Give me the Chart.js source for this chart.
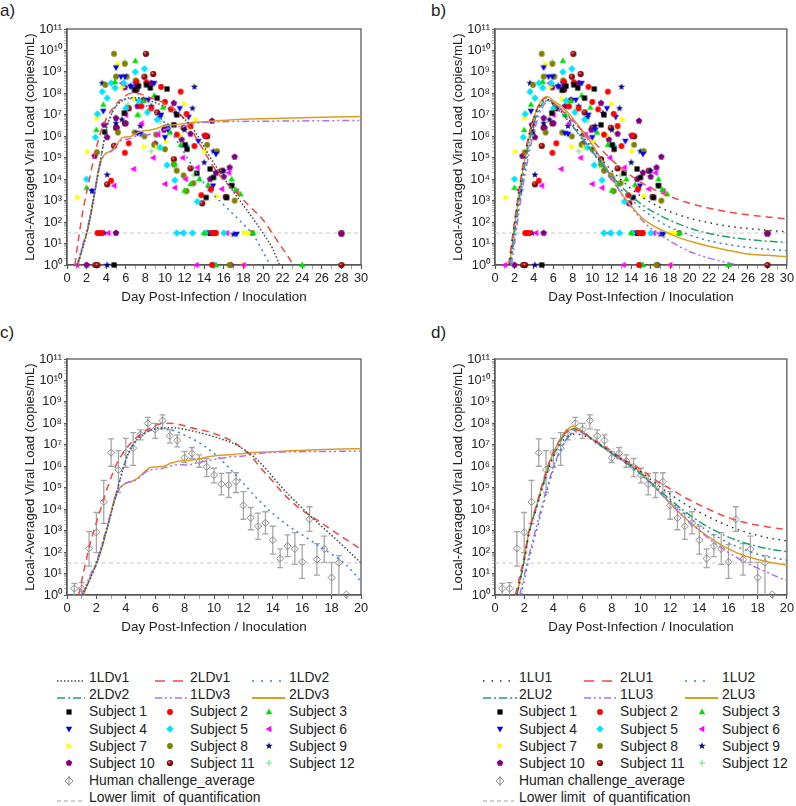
<!DOCTYPE html>
<html><head><meta charset="utf-8">
<script src="https://cdn.jsdelivr.net/npm/chart.js@4.4.0/dist/chart.umd.min.js"></script>
<style>
body{margin:0;width:796px;height:806px;position:relative;overflow:hidden;background:#fff;font-family:'Liberation Sans',Arial,sans-serif;color:#222}
canvas.pc{position:absolute}
.plab{position:absolute;font-size:17px;line-height:20px}
.lg{position:absolute;font-size:13.9px;line-height:16px;white-space:pre}
.ls{position:absolute}
</style></head><body>
<div class="plab" style="left:0;top:1px">a)</div>
<div class="plab" style="left:431px;top:1px">b)</div>
<div class="plab" style="left:0;top:323px">c)</div>
<div class="plab" style="left:431px;top:323px">d)</div>
<canvas class="pc" id="ca" width="396" height="310" style="left:0;top:0"></canvas>
<canvas class="pc" id="cb" width="368" height="310" style="left:428px;top:0"></canvas>
<canvas class="pc" id="cc" width="396" height="310" style="left:0;top:330px"></canvas>
<canvas class="pc" id="cd" width="368" height="310" style="left:428px;top:330px"></canvas>
<div id="legend"></div>
<script>
// ---------- axis ticks ----------
const xTicksLong = [0,2,4,6,8,10,12,14,16,18,20,22,24,26,28,30];
const xTicksShort = [0,2,4,6,8,10,12,14,16,18,20];
const yTickValues = [1,1e1,1e2,1e3,1e4,1e5,1e6,1e7,1e8,1e9,1e10,1e11];
const yTickLabels = ['10⁰','10¹','10²','10³','10⁴','10⁵','10⁶','10⁷','10⁸','10⁹','10¹⁰','10¹¹'];
const LLOQ = 31;

// ---------- subjects (day, copies/mL) ----------
const subj1 = [[3.84,1.6e6],[4.8,1],[5.84,1.2e7],[6.9,1.4e8],[7.3,2.2e8],[8.1,2.5e8],[8.5,1.8e8],[9.2,6e7],[10.2,1.6e8],[10.9,3.4e6],[11.2,1e7],[12.05,4e5],[12.25,2.5e5],[13.25,1.9e4],[14.2,1.4e3],[14.6,3e4],[14.95,1.2e4],[16.3,1.4e3],[16.8,5e3]];
const subj2 = [[3.1,31],[3.3,31],[3.55,31],[4.5,8.5e3],[5.9,1.7e5],[6.3,4.7e5],[7.1,3.5e8],[7.6,2.5e7],[8.1,3.3e8],[8.6,2e7],[9.6,2e8],[10.0,4e7],[10.6,1.8e7],[11.2,1.2e6],[11.6,1.2e8],[12.2,1.1e7],[12.6,3e6],[13.0,3.5e5],[13.7,1.8e3],[14.1,1.1e6],[14.7,3.5e3],[14.8,1],[14.9,31],[15.2,31]];
const subj3 = [[2.0,4e3],[3.0,2e6],[3.7,3e7],[4.9,3.5e8],[6.97,3.3e9],[7.2,1e7],[7.8,4.5e7],[8.9,8e7],[9.8,2.2e7],[10.5,1.5e6],[11.0,5e4],[11.6,4e5],[12.0,3e3],[12.6,6e3],[13.5,1e4],[14.0,31],[14.4,5.5e3],[15.2,1],[16.8,1e4],[17.2,3.3e3],[17.7,2e3],[19.0,31],[24.0,1]];
const subj4 = [[2.6,2.8e3],[3.7,1.5e7],[5.0,1.6e9],[5.5,6e8],[5.9,6e8],[6.5,2e8],[7.0,2.8e8],[7.2,1.4e6],[7.5,1.3e6],[8.3,5e7],[8.9,3e8],[9.6,1e7],[10.0,9e5],[10.3,2e6],[11.5,2e7],[12.4,8e6],[13.4,6e5],[14.0,1e6],[14.9,5e3],[15.2,1.5e5],[16.8,5e3],[17.3,28]];
const subj5 = [[2.0,1e4],[2.9,9e5],[3.1,1.1e7],[3.6,1.2e8],[4.1,6e7],[4.5,3e8],[4.9,1.8e8],[5.8,3e8],[6.0,2e7],[6.97,1e9],[7.3,4.5e7],[7.9,1.4e9],[8.2,1.3e7],[9.2,6e6],[9.5,3e5],[10.2,4.5e4],[11.0,9e3],[11.2,31],[11.9,31],[12.2,3.5e5],[12.8,31],[13.3,9e2],[14.1,31],[15.0,1],[16.0,31]];
const subj6 = [[1.0,1],[4.2,31],[4.8,5e3],[5.6,3e8],[6.0,1e7],[6.8,3e4],[7.6,4e6],[8.8,1e5],[9.3,1.2e6],[10.0,6e3],[11.0,4e3],[11.8,1e5],[11.75,31],[12.1,1e4],[13.2,1],[13.3,3.5e4],[14.6,3e3],[15.8,3.5e3],[16.3,31],[16.5,2e4],[17.3,2.8e3],[18.0,1]];
const subj7 = [[1.1,1.4e3],[2.1,1.9e5],[3.06,7e6],[5.2,2.3e9],[5.7,2e8],[6.9,5.5e7],[7.9,3.3e5],[8.3,1.5e7],[9.2,3e5],[10.1,6e5],[11.5,1.1e6],[12.0,3.3e7],[12.6,2.5e6],[13.1,6e6],[14.1,2e5],[15.3,1.6e3],[17.5,2.4e3],[18.1,31],[18.5,31],[18.0,1]];
const subj8 = [[3.06,1.8e5],[3.9,2.5e8],[4.8,7e9],[5.0,6e8],[5.2,1.5e6],[5.9,2.4e9],[6.1,6e8],[6.9,1.5e6],[7.0,4e8],[7.9,1e6],[8.9,4e5],[9.1,1.2e6],[10.0,2.5e5],[10.9,5e4],[11.2,2.5e4],[11.9,1.5e4],[12.2,2.8e3],[12.9,6.5e3],[14.3,4e5],[15.3,2e5],[16.6,1],[17.1,1e3],[18.9,31]];
const subj9 = [[2.55,2.8e3],[3.6,3e8],[3.8,31],[4.1,1.6e4],[4.1,1],[5.0,4e6],[5.6,6e6],[6.5,2.3e8],[7.5,3e6],[8.6,2.5e7],[9.5,8e6],[10.3,3e6],[11.1,1.2e7],[12.0,2e6],[12.8,2e7],[13.0,2e8],[14.0,6e4],[14.3,31],[14.95,2e5],[16.0,2.5e4],[17.0,27]];
const subj10 = [[2.0,1],[2.82,1.2e5],[3.8,3.4e6],[4.1,9e5],[5.0,7e6],[5.0,31],[5.1,2.5e6],[5.9,1.9e8],[6.0,4e6],[7.0,1.8e8],[7.2,2.5e7],[7.8,5e7],[8.6,3e8],[9.0,4.5e5],[9.9,2e6],[10.9,3.5e7],[11.7,7e5],[12.6,1.3e6],[14.8,5.2e6],[14.6,1e4],[15.2,2e4],[16.0,1.3e4],[16.6,3.5e4],[16.7,1],[17.1,1.1e5],[28.0,28]];
const subj11 = [[2.9,1],[3.1,1],[4.1,5.8e3],[4.8,3.6e5],[5.0,2.5e6],[5.9,4e6],[6.3,2e7],[7.1,1.5e8],[7.9,6e8],[8.05,7e9],[8.8,8e8],[9.2,1.3e7],[10.0,2.5e6],[10.9,8.5e4],[11.9,2.5e6],[12.6,3.2e4],[13.8,7.5e2],[14.3,1e6],[14.6,31],[15.1,31],[15.8,2.5e4],[16.2,1.5e3],[28.0,1],[28.0,31]];
const subj12 = [[4.9,3e8],[5.9,3e9],[6.2,3e7],[7.4,1e7],[8.6,2e5],[9.5,5e6],[11.0,3.5e4],[12.1,2.5e3],[12.9,1.5e4]];
const subjectNames = ['Subject 1','Subject 2','Subject 3','Subject 4','Subject 5','Subject 6','Subject 7','Subject 8','Subject 9','Subject 10','Subject 11','Subject 12'];

// ---------- human challenge average ----------
const hcDays = [0.5,1,1.5,2,2.5,3,3.5,4,4.5,5,5.5,6,6.5,7,7.5,8,8.5,9,9.5,10,10.5,11,11.5,12,12.5,13,13.5,14,14.5,15,15.5,16,16.5,17,17.5,18,18.5,19];
const hcMean = [2,2,150,830,2.2e4,4.3e6,6.8e5,4.3e6,7e6,3e7,1e8,5.2e7,1.35e8,2.6e7,1.6e7,2.5e6,4e6,1.8e6,9.5e5,3.9e5,1.5e5,1.35e5,1.9e5,1.5e4,3.9e3,1.6e3,2.3e3,360,50,190,140,35,3.4e3,45,140,6.5,32,1.05];
const hcHigh = [3.5,3.8,900,7e3,2.2e5,1.9e7,5.4e6,2e7,3.7e7,5e7,1.9e8,1e8,2.5e8,5e7,2.9e7,4.8e6,7.5e6,3.4e6,2.3e6,8.1e5,4.7e5,5e5,5e5,6.6e4,1.2e4,6.6e3,7.6e3,1.6e3,140,640,800,225,1.3e4,250,560,33,68,null];
const hcLow = [0.5,0.5,22,95,2.2e3,1e6,6e4,9e5,1.1e6,1.7e7,4.9e7,2e7,5.5e7,1.2e7,8e6,1.5e6,2.3e6,9e5,3.3e5,1.7e5,4.6e4,3.5e4,6e4,3.4e3,1.1e3,390,700,80,19,61,27,6,930,8.5,33,0.3,0.3,null];

// ---------- model curves [day, log10(copies/mL)] ----------
// panels a) and c)
const aGray = [[1.05,0],[1.5,0.65],[2,1.45],[2.5,2.55],[3,3.8],[3.5,5.1],[4,6.3],[4.5,7.0],[5,7.4],[5.5,7.62],[6,7.75],[6.6,7.8],[7.5,7.78],[8.5,7.65],[10,7.38],[11.3,7.07],[12,6.8],[12.7,6.45],[13.6,5.83],[14.5,5.1],[15.9,4.12],[17,3.4],[18.1,2.72],[19,2.15],[20,1.48],[21,0.75],[21.7,0],[22.5,-0.6]];
const aRed = [[0.8,0],[1.2,1.3],[1.58,2.41],[2.27,3.96],[2.8,5.1],[3.4,6.14],[4,6.8],[4.53,7.22],[5.44,7.69],[6.57,8.0],[7.5,7.97],[8.15,7.85],[9.96,7.54],[11,7.25],[11.78,6.91],[12.5,6.5],[13.1,5.98],[14,5.3],[14.7,4.74],[15.8,4.05],[17,3.5],[18.5,2.8],[20,2.1],[21.5,1.1],[23.1,0],[23.6,-0.4]];
const aBlue = [[1.05,0],[1.5,0.65],[2,1.45],[2.5,2.55],[3,3.8],[3.5,5.1],[4,6.3],[4.5,7.0],[5,7.4],[5.5,7.62],[6,7.72],[6.6,7.75],[7.3,7.65],[8,7.45],[9,7.1],[10,6.6],[11,5.95],[12,5.2],[13,4.45],[14,3.8],[15,3.25],[16,2.8],[17,2.35],[18,1.9],[19,1.4],[20,0.62],[20.7,0],[21.2,-0.5]];
const aPurple = [[1.02,0],[1.5,0.8],[2.04,1.63],[2.6,2.9],[3.17,4.27],[3.5,4.85],[3.85,5.15],[4.2,5.25],[4.53,5.3],[4.98,5.5],[5.3,5.7],[5.66,5.83],[6.34,5.88],[7,6.0],[7.6,6.08],[8.15,6.06],[8.8,6.15],[9.5,6.25],[10.3,6.35],[11.3,6.45],[12,6.48],[13.1,6.6],[14,6.65],[15.86,6.68],[20,6.7],[25,6.72],[30,6.74]];
const aGold = [[1.13,0],[1.6,0.85],[2.27,1.94],[2.8,3.3],[3.28,4.6],[3.6,5.0],[3.96,5.2],[4.4,5.3],[4.76,5.42],[5.2,5.7],[5.6,5.92],[6.0,5.97],[6.57,6.0],[7.1,6.15],[7.7,6.25],[8.4,6.28],[9.06,6.35],[9.6,6.45],[10.2,6.5],[11.3,6.55],[12,6.6],[12.5,6.63],[13.5,6.66],[14.7,6.7],[17,6.77],[20,6.82],[25,6.88],[30,6.92]];
// panel b)
const bRed = [[1.4,0],[2,2.0],[2.5,3.6],[3,5.0],[3.5,6.1],[4,6.9],[4.5,7.45],[5,7.75],[5.3,7.8],[6,7.55],[7,7.15],[8,6.7],[9,6.25],[10,5.8],[11,5.35],[12,4.9],[13,4.5],[14,4.15],[15,3.85],[16,3.6],[17,3.38],[18,3.19],[20,2.88],[22,2.65],[24,2.47],[26,2.34],[28,2.24],[30,2.15]];
const bGray = [[1.45,0],[2,1.9],[2.5,3.5],[3,4.9],[3.5,6.0],[4,6.85],[4.5,7.4],[5,7.68],[5.4,7.72],[6,7.5],[7,7.05],[8,6.55],[9,6.0],[10,5.45],[11,4.9],[12,4.4],[13,3.95],[14,3.55],[15,3.2],[16,2.92],[17,2.68],[18,2.48],[20,2.18],[22,1.97],[24,1.81],[26,1.7],[28,1.62],[30,1.55]];
const bGreen = [[1.55,0],[2,1.5],[2.5,3.1],[3,4.5],[3.5,5.7],[4,6.6],[4.5,7.25],[5,7.6],[5.5,7.68],[6,7.45],[7,7.0],[8,6.45],[9,5.9],[10,5.3],[11,4.72],[12,4.15],[13,3.65],[14,3.22],[15,2.85],[16,2.55],[17,2.3],[18,2.08],[20,1.72],[22,1.47],[24,1.3],[26,1.19],[28,1.11],[30,1.05]];
const bBlue = [[1.6,0],[2,1.3],[2.5,2.9],[3,4.3],[3.5,5.5],[4,6.45],[4.5,7.15],[5,7.55],[5.5,7.7],[6,7.55],[7,7.0],[8,6.45],[9,5.85],[10,5.25],[11,4.65],[12,4.05],[13,3.5],[14,3.05],[15,2.65],[16,2.3],[17,2.0],[18,1.76],[20,1.4],[22,1.13],[24,0.95],[26,0.82],[28,0.73],[30,0.67]];
const bPurple = [[1.7,0],[2.1,1.3],[2.5,2.6],[3,4.0],[3.5,5.2],[4,6.2],[4.5,6.95],[5,7.45],[5.5,7.65],[6,7.55],[7,7.2],[8,6.75],[9,6.2],[10,5.55],[11,4.85],[12,4.05],[13,3.3],[14,2.7],[15,2.15],[16,1.72],[17,1.4],[17.8,1.17],[19,0.85],[20.5,0.54],[22,0.32],[23.5,0.15],[24.9,0],[25.5,-0.1]];
const bGold = [[1.5,0],[2,1.8],[2.5,3.4],[3,4.8],[3.5,5.95],[4,6.85],[4.5,7.45],[5,7.78],[5.35,7.85],[6,7.65],[6.87,7.38],[7.8,6.95],[8.9,6.3],[10,5.6],[10.95,4.9],[12,4.1],[13,3.34],[14,2.75],[15,2.25],[16,1.9],[17.1,1.63],[18,1.45],[19.1,1.24],[20.5,1.05],[22.2,0.85],[24,0.68],[25.6,0.54],[28,0.45],[30,0.39]];
// panel d)
const dGray = [[1.5,0],[2,1.6],[2.3,2.75],[2.8,3.95],[3.3,5.1],[3.8,6.1],[4.3,6.85],[4.8,7.3],[5.5,7.5],[6,7.45],[6.5,7.3],[7,7.1],[8,6.65],[9,6.2],[10,5.75],[11,5.2],[12,4.7],[13,4.25],[14,3.87],[15,3.52],[16,3.22],[17,2.97],[18,2.78],[19,2.63],[20,2.52]];
const dRed = [[1.4,0],[2,1.8],[2.3,2.9],[2.8,4.1],[3.3,5.3],[3.8,6.35],[4.3,7.05],[4.8,7.55],[5.3,7.75],[5.8,7.65],[6.5,7.35],[7,7.15],[8,6.7],[9,6.25],[10,5.85],[11,5.35],[12,4.95],[13,4.55],[14,4.2],[15,3.88],[16,3.6],[17,3.4],[18,3.25],[19,3.14],[20,3.05]];
const dBlue = [[1.8,0],[2.2,1.3],[2.5,2.1],[3,3.4],[3.5,4.7],[4,5.85],[4.5,6.75],[5,7.35],[5.5,7.65],[6,7.6],[6.5,7.35],[7,7.1],[8,6.6],[9,6.12],[10,5.6],[11,4.98],[12,4.38],[13,3.78],[14,3.25],[15,2.8],[16,2.43],[17,2.14],[18,1.9],[19,1.74],[20,1.63]];
const dGreen = [[1.5,0],[2,1.6],[2.3,2.8],[2.8,4.0],[3.3,5.15],[3.8,6.2],[4.3,6.95],[4.8,7.5],[5.4,7.75],[6,7.6],[6.5,7.35],[7,7.1],[8,6.6],[9,6.15],[10,5.65],[11,5.05],[12,4.45],[13,3.9],[14,3.42],[15,3.02],[16,2.7],[17,2.45],[18,2.26],[19,2.12],[20,2.02]];
const dPurple = [[1.7,0],[2.1,1.2],[2.5,2.3],[3,3.6],[3.5,4.85],[4,5.95],[4.5,6.8],[5,7.35],[5.5,7.6],[6,7.55],[6.5,7.32],[7,7.08],[8,6.6],[9,6.15],[10,5.65],[11,4.98],[12,4.27],[13,3.6],[14,3.0],[15,2.45],[16,1.98],[17,1.58],[18,1.25],[19,0.95],[20,0.65]];
const dGold = [[1.5,0],[2,1.65],[2.3,2.85],[2.8,4.05],[3.3,5.25],[3.8,6.3],[4.3,7.05],[4.8,7.6],[5.3,7.85],[5.8,7.72],[6.5,7.35],[7,7.1],[8,6.6],[9,6.2],[10,5.7],[11,5.0],[12,4.27],[13,3.6],[14,3.03],[15,2.55],[16,2.15],[17,1.85],[18,1.65],[19,1.5],[20,1.4]];

const leftLineNames = ['1LDv1','2LDv1','1LDv2','2LDv2','1LDv3','2LDv3'];
const rightLineNames = ['1LU1','2LU1','1LU2','2LU2','1LU3','2LU3'];
const extraNames = ['Human challenge_average','Lower limit  of quantification'];

// ---------- styles ----------
const FONT = "'Liberation Sans', Arial, sans-serif";
Chart.defaults.font.family = FONT;
Chart.defaults.color = '#222';
const LS = {
  gray:   {c:'#4a4a4a', d:[1.5,2]},
  grayU:  {c:'#333333', d:[1.5,4.5]},
  red:    {c:'#f24848', d:[7,5]},
  blue:   {c:'#3b7de6', d:[2,4]},
  green:  {c:'#22a36a', d:[8,3,2,3]},
  purple: {c:'#b36ef0', d:[7,3,2,3,2,3]},
  gold:   {c:'#d9a020', d:[]}
};
const subjectStyle = [['square','#000000'],['circle','#ff0000'],['up','#00e000'],['down','#0000ff'],['diamond','#00e5ff'],['left','#ff00ff'],['right','#ffff00'],['circle','#808000'],['star','#000080'],['pentagon','#800080'],['sphere','#8b0000'],['cross','#7ee07e']];

function makeMarker(shape, color){
  const c = document.createElement('canvas'); c.width = 10; c.height = 10;
  const g = c.getContext('2d'); const m = 5;
  g.fillStyle = color; g.strokeStyle = color;
  const poly = pts => { g.beginPath(); pts.forEach((p,i)=> i ? g.lineTo(m+p[0], m+p[1]) : g.moveTo(m+p[0], m+p[1])); g.closePath(); g.fill(); };
  switch(shape){
    case 'square': g.fillRect(m-2.6, m-2.6, 5.2, 5.2); break;
    case 'circle': g.beginPath(); g.arc(m,m,2.9,0,Math.PI*2); g.fill(); break;
    case 'up': poly([[0,-3.4],[3.2,2.3],[-3.2,2.3]]); break;
    case 'down': poly([[0,3.4],[3.2,-2.3],[-3.2,-2.3]]); break;
    case 'left': poly([[-3.4,0],[2.3,-3.2],[2.3,3.2]]); break;
    case 'right': poly([[3.4,0],[-2.3,-3.2],[-2.3,3.2]]); break;
    case 'diamond': poly([[0,-3.7],[3.7,0],[0,3.7],[-3.7,0]]); break;
    case 'star': { const pts=[]; for(let k=0;k<10;k++){ const r = k%2 ? 1.5 : 3.8; const a = -Math.PI/2 + k*Math.PI/5; pts.push([r*Math.cos(a), r*Math.sin(a)]); } poly(pts); break; }
    case 'pentagon': { const pts=[]; for(let k=0;k<5;k++){ const a = -Math.PI/2 + k*2*Math.PI/5; pts.push([3.4*Math.cos(a), 3.4*Math.sin(a)]); } poly(pts); break; }
    case 'sphere': { const gr = g.createRadialGradient(m-1,m-1,0.2,m,m,3.2); gr.addColorStop(0,'#ffb0b0'); gr.addColorStop(0.35,'#b01010'); gr.addColorStop(1,'#5a0000'); g.fillStyle = gr; g.beginPath(); g.arc(m,m,3.1,0,Math.PI*2); g.fill(); break; }
    case 'cross': g.lineWidth = 1.1; g.beginPath(); g.moveTo(m-3.2,m); g.lineTo(m+3.2,m); g.moveTo(m,m-3.2); g.lineTo(m,m+3.2); g.stroke(); break;
  }
  return c;
}
const markers = subjectStyle.map(s => makeMarker(s[0], s[1]));

function toPts(pairs){ return pairs.map(p => ({x:p[0], y:p[1]})); }
function logPts(pairs){ return pairs.map(p => ({x:p[0], y:Math.pow(10, p[1])})); }
function lineDS(label, pairs, st){
  return {label, data:logPts(pairs), showLine:true, pointRadius:0, borderColor:st.c, borderDash:st.d, borderWidth:1.5, fill:false, cubicInterpolationMode:'monotone'};
}
function lloqDS(xMax){ return {label:'LLOQ', data:[{x:0,y:LLOQ},{x:xMax,y:LLOQ}], showLine:true, pointRadius:0, borderColor:'#c8c8c8', borderDash:[4,3], borderWidth:1}; }
function subjectDS(){
  const all = [subj1,subj2,subj3,subj4,subj5,subj6,subj7,subj8,subj9,subj10,subj11,subj12];
  return all.map((d,i)=>({label:subjectNames[i], data:toPts(d), showLine:false, pointStyle:markers[i], pointRadius:4, clip:false}));
}
function humanDS(){
  return {label:extraNames[0], data:hcDays.map((d,i)=>({x:d, y:hcMean[i]})), showLine:false, pointStyle:'rectRot', pointRadius:3.6, borderColor:'#8c8c8c', backgroundColor:'rgba(255,255,255,0)', borderWidth:1, clip:false};
}

const framePlugin = { id:'frame', beforeDatasetsDraw(chart){
  const {ctx, chartArea:a} = chart; ctx.save(); ctx.strokeStyle = '#5a5a5a'; ctx.lineWidth = 1.3;
  ctx.strokeRect(a.left, a.top, a.right-a.left, a.bottom-a.top); ctx.restore(); } };
const errorBarPlugin = { id:'errbars', beforeDatasetsDraw(chart){
  const {ctx, chartArea:a, scales:{x, y}} = chart;
  ctx.save(); ctx.beginPath(); ctx.rect(a.left, a.top, a.right-a.left, a.bottom-a.top); ctx.clip();
  ctx.strokeStyle = '#a6a6a6'; ctx.lineWidth = 1.3;
  hcDays.forEach((d,i)=>{
    if (hcHigh[i] == null) return;
    const px = x.getPixelForValue(d), y1 = y.getPixelForValue(hcHigh[i]), y2 = y.getPixelForValue(hcLow[i]);
    ctx.beginPath(); ctx.moveTo(px,y1); ctx.lineTo(px,y2);
    ctx.moveTo(px-3,y1); ctx.lineTo(px+3,y1); ctx.moveTo(px-3,y2); ctx.lineTo(px+3,y2); ctx.stroke();
  });
  ctx.restore(); } };

function makeChart(id, xMax, labelTicks, padRight, datasets, extraPlugins){
  const allX = []; for (let v = 0; v <= xMax; v++) allX.push(v);
  const allY = [];
  yTickValues.forEach((v,i)=>{ allY.push({value:v, major:true}); if (i < yTickValues.length-1) for (let k=2;k<10;k++) allY.push({value:v*k, major:false}); });
  return new Chart(document.getElementById(id), {
    type:'scatter',
    data:{datasets},
    options:{
      responsive:false, animation:false, events:[],
      layout:{padding:{top:29, right:padRight, left:0, bottom:0}},
      plugins:{legend:{display:false}, tooltip:{enabled:false}},
      scales:{
        x:{type:'linear', min:0, max:xMax,
          afterBuildTicks: s => { s.ticks = allX.map(v => ({value:v, major: labelTicks.includes(v)})); },
          afterFit: s => { s.height = 45; },
          ticks:{autoSkip:false, maxRotation:0, padding:2, font:{size:12.8}, color:'#222',
            callback: v => labelTicks.includes(v) ? String(v) : ''},
          grid:{drawOnChartArea:false, drawTicks:true, tickLength:4,
            tickColor: c => (c.tick && c.tick.major) ? '#555' : '#888', tickWidth: c => (c.tick && c.tick.major) ? 1.2 : 0.8},
          border:{color:'#555', width:1.3},
          title:{display:true, text:'Day Post-Infection / Inoculation', font:{size:13.4}, color:'#222', padding:{top:0, bottom:5}}
        },
        y:{type:'logarithmic', min:1, max:1e11,
          afterBuildTicks: s => { s.ticks = allY.map(t => ({value:t.value, major:t.major})); },
          afterFit: s => { s.width = 67; },
          ticks:{autoSkip:false, padding:2, font:{size:12.8}, color:'#222',
            callback: v => { const i = yTickValues.indexOf(v); return i >= 0 ? yTickLabels[i] : ''; }},
          grid:{drawOnChartArea:false, drawTicks:true, tickLength:3,
            tickColor: c => (c.tick && c.tick.major) ? '#555' : '#999', tickWidth: c => (c.tick && c.tick.major) ? 1.2 : 0.7},
          border:{color:'#555', width:1.3},
          title:{display:true, text:'Local-Averaged Viral Load (copies/mL)', font:{size:13.2}, color:'#222', padding:{top:22, bottom:0}}
        }
      }
    },
    plugins:[framePlugin].concat(extraPlugins || [])
  });
}

// panel a
makeChart('ca', 30, xTicksLong, 35, [
  lineDS('1LDv1', aGray, LS.gray), lineDS('2LDv1', aRed, LS.red), lineDS('1LDv2', aBlue, LS.blue),
  lineDS('1LDv3', aPurple, LS.purple), lineDS('2LDv3', aGold, LS.gold)
].concat(subjectDS(), [lloqDS(30)]));
// panel b
makeChart('cb', 30, xTicksLong, 7, [
  lineDS('1LU1', bGray, LS.grayU), lineDS('2LU1', bRed, LS.red), lineDS('1LU2', bBlue, LS.blue),
  lineDS('2LU2', bGreen, LS.green), lineDS('1LU3', bPurple, LS.purple), lineDS('2LU3', bGold, LS.gold)
].concat(subjectDS(), [lloqDS(30)]));
// panel c
makeChart('cc', 20, xTicksShort, 35, [
  lineDS('1LDv1', aGray, LS.gray), lineDS('2LDv1', aRed, LS.red), lineDS('1LDv2', aBlue, LS.blue),
  lineDS('1LDv3', aPurple, LS.purple), lineDS('2LDv3', aGold, LS.gold),
  humanDS(), lloqDS(20)
], [errorBarPlugin]);
// panel d
makeChart('cd', 20, xTicksShort, 7, [
  lineDS('1LU1', dGray, LS.grayU), lineDS('2LU1', dRed, LS.red), lineDS('1LU2', dBlue, LS.blue),
  lineDS('2LU2', dGreen, LS.green), lineDS('1LU3', dPurple, LS.purple), lineDS('2LU3', dGold, LS.gold),
  humanDS(), lloqDS(20)
], [errorBarPlugin]);

// ---------- legends ----------
const legend = document.getElementById('legend');
const rowY = [677, 694, 711.7, 729, 746, 763.3, 780.7, 797.3];
function addText(x, y, text){ const d = document.createElement('div'); d.className = 'lg'; d.style.left = x+'px'; d.style.top = (y-8.5)+'px'; d.textContent = text; legend.appendChild(d); }
function addLine(x1, x2, y, st, w){
  const W = x2 - x1; const d = document.createElement('div'); d.className = 'ls'; d.style.left = x1+'px'; d.style.top = (y-5)+'px';
  d.innerHTML = `<svg width="${W}" height="10"><line x1="0" y1="5" x2="${W}" y2="5" stroke="${st.c}" stroke-width="${w||1.6}" ${st.d.length ? 'stroke-dasharray="'+st.d.join(',')+'"' : ''}/></svg>`;
  legend.appendChild(d);
}
function addMarker(cx, cy, canvas){ const im = document.createElement('img'); im.src = canvas.toDataURL(); im.className = 'ls'; im.style.left = (cx-5)+'px'; im.style.top = (cy-5)+'px'; legend.appendChild(im); }
const humanMarker = (()=>{ const c = document.createElement('canvas'); c.width = 10; c.height = 10; const g = c.getContext('2d');
  g.strokeStyle = '#8c8c8c'; g.lineWidth = 1; g.beginPath(); g.moveTo(5,1); g.lineTo(9,5); g.lineTo(5,9); g.lineTo(1,5); g.closePath(); g.stroke();
  g.beginPath(); g.moveTo(5,0); g.lineTo(5,10); g.stroke(); return c; })();

function buildLegend(lineNames, lineStyles, sampleX, textX, markerX, legendDash){
  const order = [[0,0],[0,1],[0,2],[1,0],[1,1],[1,2]];
  order.forEach((rc, k) => {
    const [r, col] = rc; addLine(sampleX[r][col][0], sampleX[r][col][1], rowY[r], lineStyles[k], k===5 ? 2 : 1.6);
    addText(textX[col], rowY[r], lineNames[k]);
  });
  for (let i = 0; i < 12; i++){
    const r = 2 + Math.floor(i/3), col = i % 3;
    addMarker(markerX[col], rowY[r], markers[i]); addText(textX[col], rowY[r], subjectNames[i]);
  }
  addMarker(markerX[0], rowY[6], humanMarker); addText(textX[0], rowY[6], extraNames[0]);
  addLine(legendDash[0], legendDash[1], rowY[7], {c:'#c0c0c0', d:[4,3]}, 1.3); addText(textX[0], rowY[7], extraNames[1]);
}
buildLegend(leftLineNames,
  [LS.gray, {c:LS.red.c, d:[10,8]}, {c:LS.blue.c, d:[2,7]}, LS.green, LS.purple, LS.gold],
  [[[57,85],[155,188],[252,285]], [[57,85],[155,188],[252,285]]],
  [89, 190, 289], [69, 170, 269], [57, 84]);
buildLegend(rightLineNames,
  [{c:'#333', d:[1.5,7]}, {c:LS.red.c, d:[10,8]}, {c:LS.blue.c, d:[2,7]}, LS.green, LS.purple, LS.gold],
  [[[483,510],[584,614],[685,712]], [[483,517],[584,619],[685,718]]],
  [519, 620, 722], [500, 600, 702], [483, 514]);
</script>
</body></html>
